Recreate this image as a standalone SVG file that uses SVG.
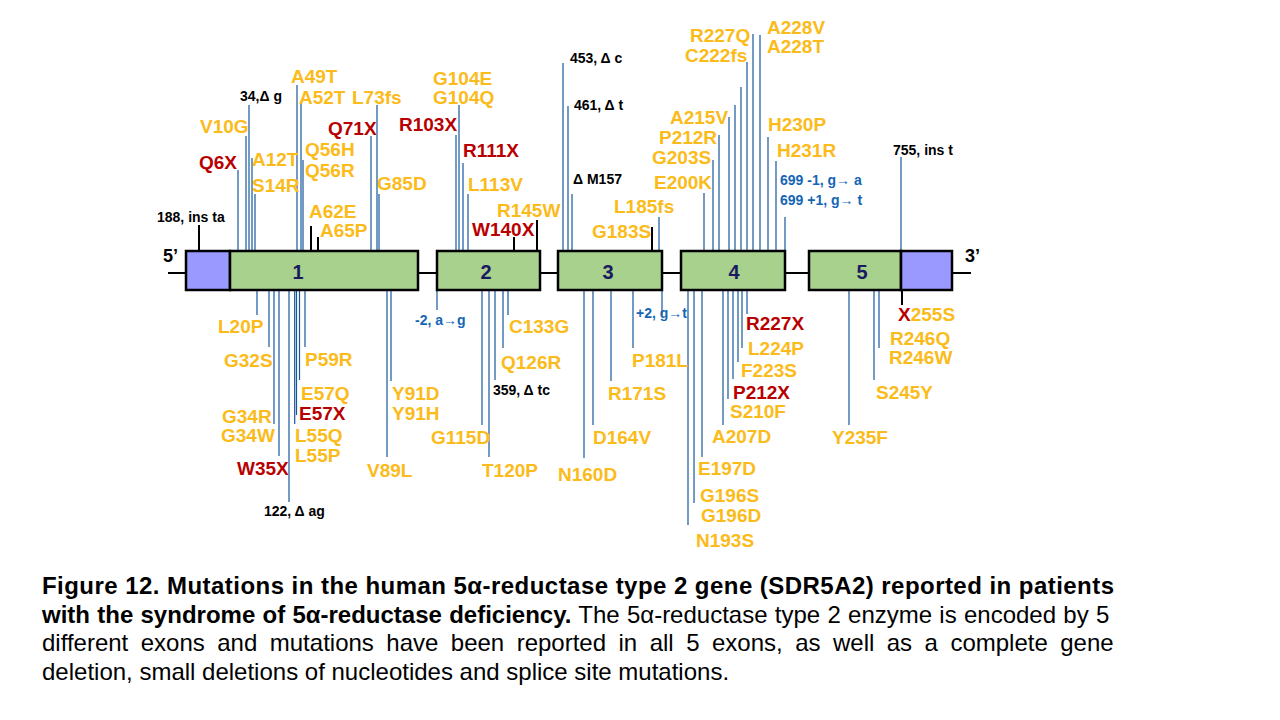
<svg xmlns="http://www.w3.org/2000/svg" width="1280" height="720" viewBox="0 0 1280 720">
<style>
text{font-family:"Liberation Sans",Arial,sans-serif;font-weight:bold}
.o{fill:#fbbb1a;font-size:19px}
.r{fill:#b80000;font-size:19px}
.k{fill:#000;font-size:14px}
.b{fill:#1565b5;font-size:14px}
.n{fill:#1a1a60;font-size:20px;text-anchor:middle}
.e{fill:#a9d18e;stroke:#000;stroke-width:2.5}
.u{fill:#9999ff;stroke:#000;stroke-width:2.5}
.bl line{stroke:#15589a;stroke-width:1.2}
.tk line{stroke:#000;stroke-width:2}
.cap{font-size:24px;fill:#000}
.nb{font-weight:normal}
</style>
<rect width="1280" height="720" fill="#fff"/>
<g id="connectors">
<g class="tk">
<line x1="168" y1="273" x2="186" y2="273"/>
<line x1="418" y1="273" x2="437" y2="273"/>
<line x1="540" y1="273" x2="558" y2="273"/>
<line x1="662" y1="273" x2="681" y2="273"/>
<line x1="785" y1="273" x2="809" y2="273"/>
<line x1="952" y1="273" x2="971" y2="273"/>
<line x1="199" y1="251" x2="199" y2="225"/>
<line x1="311" y1="251" x2="311" y2="226"/>
<line x1="318" y1="251" x2="318" y2="237"/>
<line x1="514" y1="251" x2="514" y2="237"/>
<line x1="537" y1="251" x2="537" y2="220"/>
<line x1="652" y1="251" x2="652" y2="227"/>
<line x1="902" y1="290" x2="902" y2="305"/>
</g>
<g class="bl">
<line x1="238" y1="251" x2="238" y2="170"/>
<line x1="246" y1="251" x2="246" y2="136"/>
<line x1="249" y1="251" x2="249" y2="105"/>
<line x1="252" y1="251" x2="252" y2="158"/>
<line x1="255" y1="251" x2="255" y2="194"/>
<line x1="297" y1="251" x2="297" y2="85"/>
<line x1="301" y1="251" x2="301" y2="102"/>
<line x1="303" y1="251" x2="303" y2="160"/>
<line x1="371" y1="251" x2="371" y2="136"/>
<line x1="377" y1="251" x2="377" y2="105"/>
<line x1="379" y1="251" x2="379" y2="194"/>
<line x1="456" y1="251" x2="456" y2="135"/>
<line x1="459" y1="251" x2="459" y2="105"/>
<line x1="463" y1="251" x2="463" y2="163"/>
<line x1="468" y1="251" x2="468" y2="194"/>
<line x1="563" y1="251" x2="563" y2="63"/>
<line x1="568" y1="251" x2="568" y2="106"/>
<line x1="572" y1="251" x2="572" y2="194"/>
<line x1="659" y1="251" x2="659" y2="217"/>
<line x1="704" y1="251" x2="704" y2="193"/>
<line x1="713" y1="251" x2="713" y2="160"/>
<line x1="719" y1="251" x2="719" y2="135"/>
<line x1="729" y1="251" x2="729" y2="117"/>
<line x1="735" y1="251" x2="735" y2="105"/>
<line x1="741" y1="251" x2="741" y2="87"/>
<line x1="747" y1="251" x2="747" y2="62"/>
<line x1="753" y1="251" x2="753" y2="34"/>
<line x1="760" y1="251" x2="760" y2="35"/>
<line x1="768" y1="251" x2="768" y2="137"/>
<line x1="776" y1="251" x2="776" y2="161"/>
<line x1="785" y1="251" x2="785" y2="217"/>
<line x1="901" y1="251" x2="901" y2="157"/>
<line x1="257" y1="290" x2="257" y2="315"/>
<line x1="269" y1="290" x2="269" y2="347"/>
<line x1="274" y1="290" x2="274" y2="424"/>
<line x1="279" y1="290" x2="279" y2="456"/>
<line x1="289" y1="290" x2="289" y2="502"/>
<line x1="294.7" y1="290" x2="294.7" y2="424"/>
<line x1="296.5" y1="290" x2="296.5" y2="415"/>
<line x1="299.5" y1="290" x2="299.5" y2="380"/>
<line x1="305" y1="290" x2="305" y2="347"/>
<line x1="387" y1="290" x2="387" y2="457"/>
<line x1="391" y1="290" x2="391" y2="381"/>
<line x1="437" y1="290" x2="437" y2="310"/>
<line x1="482" y1="290" x2="482" y2="425"/>
<line x1="489" y1="290" x2="489" y2="457"/>
<line x1="495" y1="290" x2="495" y2="380"/>
<line x1="503" y1="290" x2="503" y2="348"/>
<line x1="508" y1="290" x2="508" y2="315"/>
<line x1="584" y1="290" x2="584" y2="458"/>
<line x1="593" y1="290" x2="593" y2="425"/>
<line x1="611" y1="290" x2="611" y2="381"/>
<line x1="633" y1="290" x2="633" y2="348"/>
<line x1="662" y1="290" x2="662" y2="315"/>
<line x1="688" y1="290" x2="688" y2="525"/>
<line x1="694" y1="290" x2="694" y2="503"/>
<line x1="702" y1="290" x2="702" y2="457"/>
<line x1="723" y1="290" x2="723" y2="425"/>
<line x1="728" y1="290" x2="728" y2="399"/>
<line x1="733" y1="290" x2="733" y2="379"/>
<line x1="738" y1="290" x2="738" y2="362"/>
<line x1="742" y1="290" x2="742" y2="348"/>
<line x1="747" y1="290" x2="747" y2="314"/>
<line x1="849" y1="290" x2="849" y2="425"/>
<line x1="874" y1="290" x2="874" y2="380"/>
<line x1="879" y1="290" x2="879" y2="348"/>
</g>
</g>
<g id="utr5"><rect class="u" x="186" y="251" width="44" height="39"/></g>
<g id="exon1"><rect class="e" x="230" y="251" width="188" height="39"/><text class="n" x="298" y="279">1</text></g>
<g id="exon2"><rect class="e" x="437" y="251" width="103" height="39"/><text class="n" x="486" y="279">2</text></g>
<g id="exon3"><rect class="e" x="558" y="251" width="104" height="39"/><text class="n" x="608" y="279">3</text></g>
<g id="exon4"><rect class="e" x="681" y="251" width="104" height="39"/><text class="n" x="734" y="279">4</text></g>
<g id="exon5"><rect class="e" x="809" y="251" width="92" height="39"/><text class="n" x="862" y="279">5</text></g>
<g id="utr3"><rect class="u" x="901" y="251" width="51" height="39"/></g>
<g id="ends">
<text x="163" y="262" style="font-size:18px">5’</text>
<text x="965" y="262" style="font-size:18px">3’</text>
</g>
<g id="labels">
<text class="r" x="199" y="169">Q6X</text>
<text class="o" x="200" y="133">V10G</text>
<text class="k" x="240" y="101">34,Δ g</text>
<text class="o" x="252" y="166">A12T</text>
<text class="o" x="252" y="192">S14R</text>
<text class="k" x="157" y="222">188, ins ta</text>
<text class="o" x="291" y="83">A49T</text>
<text class="o" x="299" y="104">A52T</text>
<text class="o" x="352" y="104">L73fs</text>
<text class="r" x="328" y="135">Q71X</text>
<text class="o" x="305" y="156">Q56H</text>
<text class="o" x="305" y="177">Q56R</text>
<text class="o" x="377" y="190">G85D</text>
<text class="o" x="309" y="218">A62E</text>
<text class="o" x="320" y="237">A65P</text>
<text class="o" x="433" y="85">G104E</text>
<text class="o" x="433" y="104">G104Q</text>
<text class="r" x="399" y="131">R103X</text>
<text class="r" x="463" y="157">R111X</text>
<text class="o" x="468" y="191">L113V</text>
<text class="o" x="497" y="217">R145W</text>
<text class="r" x="472" y="236">W140X</text>
<text class="k" x="570" y="63">453, Δ c</text>
<text class="k" x="574" y="110">461, Δ t</text>
<text class="k" x="573" y="184">Δ M157</text>
<text class="o" x="614" y="213">L185fs</text>
<text class="o" x="592" y="238">G183S</text>
<text class="o" x="690" y="42">R227Q</text>
<text class="o" x="685" y="62">C222fs</text>
<text class="o" x="767" y="34">A228V</text>
<text class="o" x="767" y="53">A228T</text>
<text class="o" x="670" y="124">A215V</text>
<text class="o" x="659" y="144">P212R</text>
<text class="o" x="652" y="164">G203S</text>
<text class="o" x="654" y="189">E200K</text>
<text class="o" x="768" y="131">H230P</text>
<text class="o" x="777" y="157">H231R</text>
<text class="b" x="780" y="185">699 -1, g→ a</text>
<text class="b" x="780" y="205">699 +1, g→ t</text>
<text class="k" x="893" y="155">755, ins t</text>
<text class="o" x="218" y="333">L20P</text>
<text class="o" x="224" y="367">G32S</text>
<text class="o" x="305" y="366">P59R</text>
<text class="o" x="301" y="400">E57Q</text>
<text class="r" x="299" y="420">E57X</text>
<text class="o" x="222" y="423">G34R</text>
<text class="o" x="221" y="442">G34W</text>
<text class="o" x="295" y="442">L55Q</text>
<text class="o" x="295" y="462">L55P</text>
<text class="r" x="237" y="475">W35X</text>
<text class="k" x="264" y="516">122, Δ ag</text>
<text class="o" x="392" y="400">Y91D</text>
<text class="o" x="392" y="420">Y91H</text>
<text class="o" x="367" y="477">V89L</text>
<text class="b" x="415" y="325">-2, a→g</text>
<text class="o" x="509" y="333">C133G</text>
<text class="o" x="501" y="369">Q126R</text>
<text class="k" x="493" y="395">359, Δ tc</text>
<text class="o" x="431" y="444">G115D</text>
<text class="o" x="482" y="477">T120P</text>
<text class="o" x="558" y="481">N160D</text>
<text class="o" x="593" y="444">D164V</text>
<text class="o" x="608" y="400">R171S</text>
<text class="o" x="632" y="367">P181L</text>
<text class="b" x="636" y="318">+2, g→t</text>
<text class="r" x="746" y="330">R227X</text>
<text class="o" x="748" y="355">L224P</text>
<text class="o" x="741" y="377">F223S</text>
<text class="r" x="733" y="399">P212X</text>
<text class="o" x="730" y="418">S210F</text>
<text class="o" x="712" y="443">A207D</text>
<text class="o" x="698" y="475">E197D</text>
<text class="o" x="700" y="502">G196S</text>
<text class="o" x="701" y="522">G196D</text>
<text class="o" x="696" y="547">N193S</text>
<text class="o" x="832" y="444">Y235F</text>
<text class="o" x="876" y="399">S245Y</text>
<text class="o" x="890" y="345">R246Q</text>
<text class="o" x="889" y="364">R246W</text>
<text class="o" x="898" y="321"><tspan fill="#b80000">X</tspan>255S</text>
</g>
<g id="caption">
<text class="cap" x="42" y="594" textLength="1072" lengthAdjust="spacing">Figure 12. Mutations in the human 5α-reductase type 2 gene (SDR5A2) reported in patients</text>
<text class="cap" x="42" y="623" style="word-spacing:0.6px">with the syndrome of 5α-reductase deficiency.<tspan class="nb"> The 5α-reductase type 2 enzyme is encoded by 5</tspan></text>
<text class="cap nb" x="42" y="651" style="word-spacing:5.8px">different exons and mutations have been reported in all 5 exons, as well as a complete gene</text>
<text class="cap nb" x="42" y="680">deletion, small deletions of nucleotides and splice site mutations.</text>
</g>
</svg>
